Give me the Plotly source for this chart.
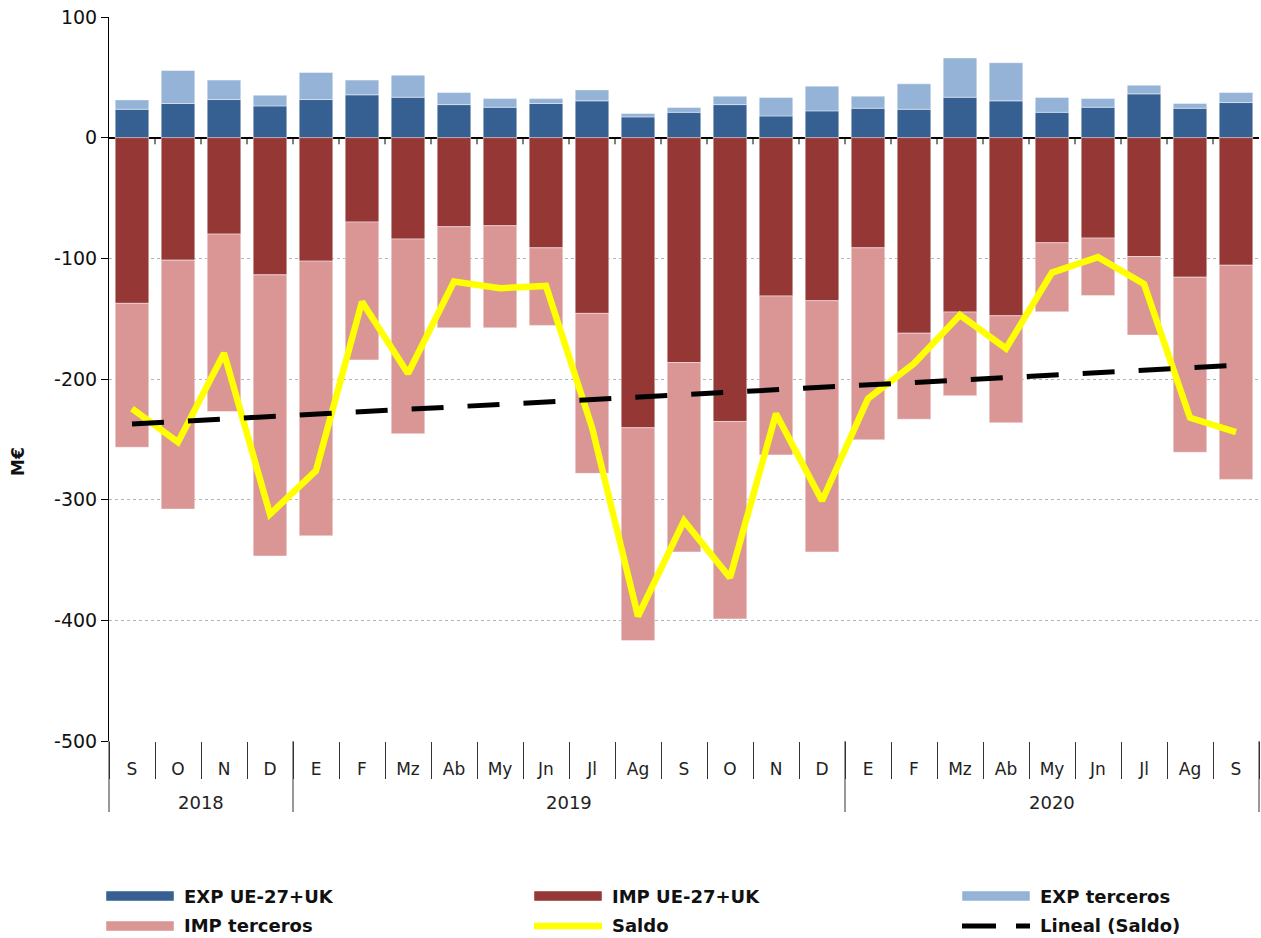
import numpy as np
import plotly.graph_objects as go

# ---------------- data ----------------
months = ["S", "O", "N", "D", "E", "F", "Mz", "Ab", "My", "Jn", "Jl", "Ag",
          "S", "O", "N", "D", "E", "F", "Mz", "Ab", "My", "Jn", "Jl", "Ag", "S"]
years = ["2018", "2019", "2020"]
year_counts = [4, 12, 9]

exp_ue = [23.5, 28.3, 31.6, 26.3, 31.6, 35.5, 33.5, 27.4, 25.2, 28.3, 30.5, 17.2, 21.0,
          27.4, 18.0, 22.2, 24.4, 23.5, 33.5, 30.5, 21.0, 25.2, 36.3, 24.4, 29.1]
exp_ter = [7.8, 27.4, 16.1, 8.9, 22.4, 12.2, 18.3, 10.0, 7.2, 4.1, 9.1, 2.8, 4.0,
           7.0, 15.3, 20.5, 10.0, 21.1, 32.5, 31.6, 12.3, 7.2, 7.2, 3.9, 8.3]
imp_ue = [-137.3, -101.5, -79.9, -113.7, -102.3, -69.9, -84.0, -73.8, -73.0, -91.3, -145.6, -240.4, -186.4,
          -235.2, -131.2, -135.1, -91.3, -162.0, -144.5, -147.6, -87.1, -83.2, -98.5, -115.6, -105.7]
imp_ter = [-119.3, -206.3, -147.0, -233.0, -227.7, -114.3, -161.4, -83.8, -84.6, -64.3, -132.6, -176.4, -156.9,
           -163.6, -131.7, -208.2, -159.1, -71.3, -69.3, -88.7, -57.2, -47.7, -65.1, -145.1, -177.5]
saldo = [-224.6, -252.4, -178.6, -312.0, -276.0, -136.0, -195.5, -119.3, -124.8, -122.9, -240.0, -396.6, -317.6,
         -364.7, -228.8, -300.9, -216.3, -187.2, -147.0, -174.7, -111.8, -99.0, -121.2, -232.1, -244.0]

y_tick_vals = [100, 0, -100, -200, -300, -400, -500]
y_tick_text = ["100", "0", "-100", "-200", "-300", "-400", "-500"]

names = ["EXP UE-27+UK", "IMP UE-27+UK", "EXP terceros", "IMP terceros", "Saldo", "Lineal (Saldo)"]

# ---------------- styles ----------------
C_EXP_UE = "#376092"
C_IMP_UE = "#953735"
C_EXP_TER = "#95B3D7"
C_IMP_TER = "#D99694"
C_SALDO = "#FFFF00"
C_TREND = "#000000"
FONT = "DejaVu Sans"

W, H = 1261, 938
PL, PR, PT, PB = 109, 1259, 17, 741


def px2x(px):
    return (px - PL) / (PR - PL)


def py2y(py):
    return (PB - py) / (PB - PT)


x = list(range(len(months)))
coef = np.polyfit(x, saldo, 1)
trend = np.polyval(coef, x)

fig = go.Figure()
bar_line = dict(width=0.8, color="rgba(255,255,255,0.55)")
fig.add_trace(go.Bar(x=x, y=exp_ue, name=names[0], marker=dict(color=C_EXP_UE, line=bar_line)))
fig.add_trace(go.Bar(x=x, y=imp_ue, name=names[1], marker=dict(color=C_IMP_UE, line=bar_line)))
fig.add_trace(go.Bar(x=x, y=exp_ter, name=names[2], marker=dict(color=C_EXP_TER, line=bar_line)))
fig.add_trace(go.Bar(x=x, y=imp_ter, name=names[3], marker=dict(color=C_IMP_TER, line=bar_line)))
fig.add_trace(go.Scatter(x=x, y=saldo, name=names[4], mode="lines",
                         line=dict(color=C_SALDO, width=6.5)))
fig.add_trace(go.Scatter(x=x, y=trend, name=names[5], mode="lines",
                         line=dict(color=C_TREND, width=5, dash="32px,24px")))

shapes = []
annotations = []

# small ticks on the zero line at category boundaries
for i in range(len(months) - 1):
    shapes.append(dict(type="line", xref="x", yref="y", x0=i + 0.5, x1=i + 0.5, y0=0, y1=-5.5,
                       line=dict(color="#000", width=1), layer="above"))

# year separators
bounds = [0]
for c in year_counts:
    bounds.append(bounds[-1] + c)
for b in bounds:
    if b == 0:
        xr, xv = "paper", 0
    elif b == len(months):
        xr, xv = "paper", 1
    else:
        xr, xv = "x", b - 0.5
    shapes.append(dict(type="line", xref=xr, yref="paper", x0=xv, x1=xv, y0=0, y1=py2y(812),
                       line=dict(color="#333", width=1)))

# year labels
for yname, a, b in zip(years, bounds[:-1], bounds[1:]):
    annotations.append(dict(text=yname, xref="x", yref="paper", x=(a + b - 1) / 2, y=py2y(802),
                            showarrow=False, xanchor="center", yanchor="middle",
                            font=dict(family=FONT, size=18, color="#222")))

# y axis title
annotations.append(dict(text="M€", xref="paper", yref="paper", x=px2x(18), y=py2y(462),
                        showarrow=False, textangle=-90, xanchor="center", yanchor="middle",
                        font=dict(family=FONT, size=17, color="#111", weight="bold")))

# manual legend
legend_items = [
    (106, 896, names[0], "rect", C_EXP_UE),
    (534, 896, names[1], "rect", C_IMP_UE),
    (962, 896, names[2], "rect", C_EXP_TER),
    (106, 926, names[3], "rect", C_IMP_TER),
    (534, 926, names[4], "line", C_SALDO),
    (962, 926, names[5], "dash", C_TREND),
]
SW = 68
for sx, sy, label, kind, col in legend_items:
    if kind == "rect":
        shapes.append(dict(type="rect", xref="paper", yref="paper",
                           x0=px2x(sx), x1=px2x(sx + SW), y0=py2y(sy + 5), y1=py2y(sy - 5),
                           fillcolor=col, line=dict(width=0.8, color="rgba(255,255,255,0.6)")))
    elif kind == "line":
        shapes.append(dict(type="line", xref="paper", yref="paper",
                           x0=px2x(sx), x1=px2x(sx + SW), y0=py2y(sy), y1=py2y(sy),
                           line=dict(color=col, width=6.5)))
    else:
        shapes.append(dict(type="line", xref="paper", yref="paper",
                           x0=px2x(sx), x1=px2x(sx + SW), y0=py2y(sy), y1=py2y(sy),
                           line=dict(color=col, width=5, dash="34px,20px")))
    annotations.append(dict(text=label, xref="paper", yref="paper", x=px2x(sx + 76), y=py2y(sy),
                            showarrow=False, xanchor="left", yanchor="middle",
                            font=dict(family=FONT, size=18, color="#111", weight="bold")))

fig.update_layout(
    width=W, height=H,
    margin=dict(l=PL, r=W - PR, t=PT, b=H - PB, pad=0),
    paper_bgcolor="white", plot_bgcolor="white",
    barmode="relative", bargap=0.27,
    showlegend=False,
    font=dict(family=FONT, color="#111"),
    shapes=shapes, annotations=annotations,
    xaxis=dict(
        range=[-0.5, len(months) - 0.5],
        tickmode="array", tickvals=x, ticktext=months,
        ticks="outside", ticklen=13, tickcolor="rgba(0,0,0,0)",
        tickfont=dict(family=FONT, size=17, color="#222"),
        showline=False, showgrid=False, zeroline=False,
        minor=dict(tickmode="array", tickvals=[i - 0.5 for i in range(len(months) + 1)],
                   ticks="outside", ticklen=37, tickcolor="#333", tickwidth=1, showgrid=False),
        fixedrange=True,
    ),
    yaxis=dict(
        range=[-500, 100],
        tickmode="array", tickvals=y_tick_vals, ticktext=y_tick_text,
        ticks="outside", ticklen=7, tickcolor="#000", tickwidth=1,
        tickfont=dict(family=FONT, size=19, color="#111"),
        showline=True, linecolor="#000", linewidth=1,
        showgrid=True, gridcolor="#b5b5b5", griddash="dot", gridwidth=1,
        zeroline=True, zerolinecolor="#000", zerolinewidth=1.5,
        fixedrange=True,
    ),
)

fig.write_html(
    "out.html",
    config={"displayModeBar": False},
    post_script="document.body.style.margin='0';document.documentElement.style.overflow='hidden';",
)
